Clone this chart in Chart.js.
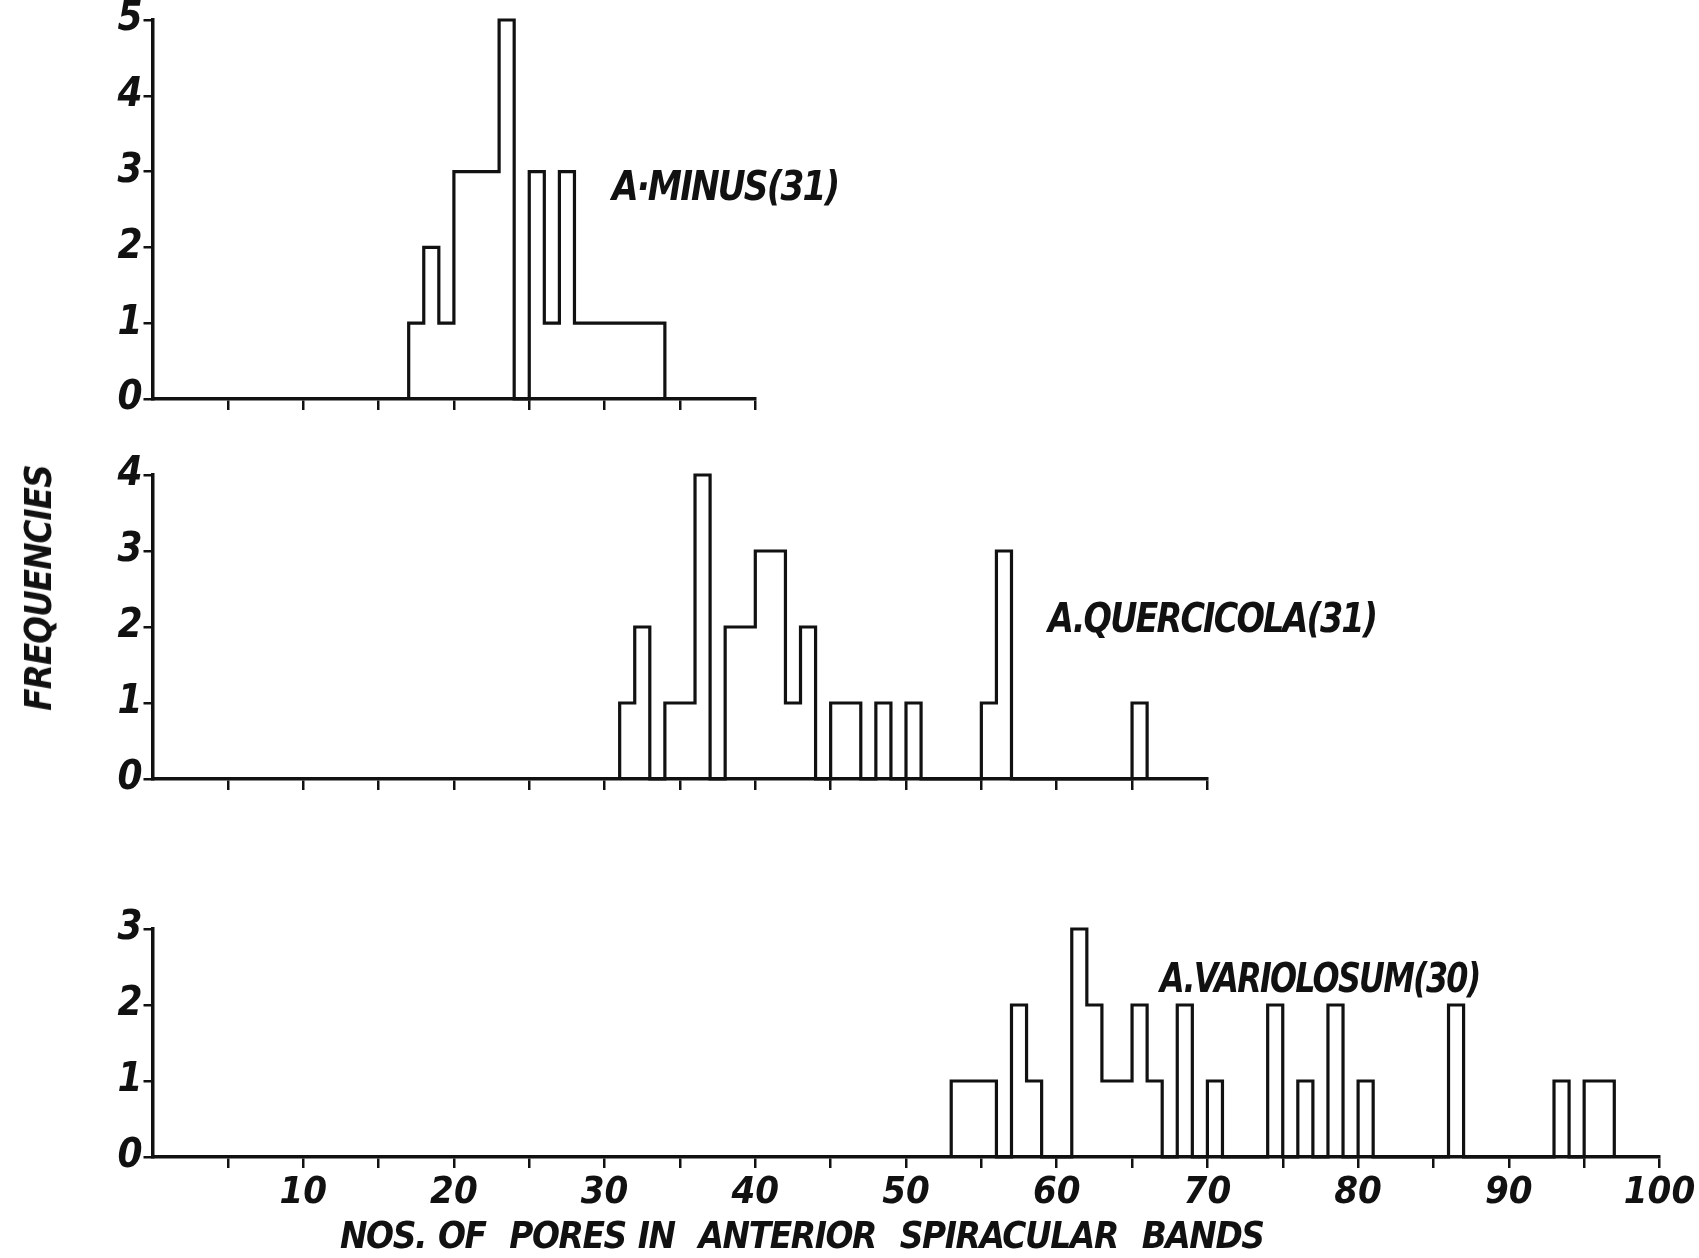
<!DOCTYPE html>
<html>
<head>
<meta charset="utf-8">
<script src="https://cdn.jsdelivr.net/npm/chart.js@4.4.1/dist/chart.umd.min.js"></script>
<style>
  html, body { margin: 0; padding: 0; background: #fff; }
  #page { position: relative; width: 1699px; height: 1258px; overflow: hidden; background: #fff; }
  .panel { position: absolute; left: 0; }
  .txt {
    position: absolute;
    font-family: 'DejaVu Sans Condensed', 'DejaVu Sans', sans-serif;
    font-style: italic;
    font-weight: bold;
    color: #111;
    white-space: pre;
    line-height: 1;
    transform-origin: 0 50%;
  }
</style>
</head>
<body>
<div id="page">
  <div class="panel" id="wrapMinus"><canvas id="chartMinus"></canvas></div>
  <div class="panel" id="wrapQuerc"><canvas id="chartQuerc"></canvas></div>
  <div class="panel" id="wrapVario"><canvas id="chartVario"></canvas></div>

  <div class="txt" id="lblMinus" style="left:612px; top:166px; font-size:40px; letter-spacing:-2px; transform:scaleX(0.955);">A·MINUS(31)</div>
  <div class="txt" id="lblQuerc" style="left:1048px; top:598px; font-size:40px; letter-spacing:-2px; transform:scaleX(0.93);">A.QUERCICOLA(31)</div>
  <div class="txt" id="lblVario" style="left:1160px; top:958px; font-size:40px; letter-spacing:-2px; transform:scaleX(0.885);">A.VARIOLOSUM(30)</div>
  <div class="txt" id="xTitle" style="left:340px; top:1216px; font-size:38px; letter-spacing:-1.5px; word-spacing:2px; transform:scaleX(0.963);">NOS. OF  PORES IN  ANTERIOR  SPIRACULAR  BANDS</div>
  <div class="txt" id="yTitle" style="left:38px; top:588px; font-size:38px; letter-spacing:-1px; transform-origin:50% 50%; transform:translate(-50%,-50%) rotate(-90deg) scaleX(0.957);">FREQUENCIES</div>
</div>

<script>
// Frequency of each pore count, starting at the first non-empty bin
const minusStart = 17;
const minusCounts = [1, 2, 1, 3, 3, 3, 5, 0, 3, 1, 3, 1, 1, 1, 1, 1, 1];

const quercStart = 31;
const quercCounts = [1, 2, 0, 1, 1, 4, 0, 2, 2, 3, 3, 1, 2, 0, 1, 1, 0, 1, 0, 1,
                     0, 0, 0, 0, 1, 3, 0, 0, 0, 0, 0, 0, 0, 0, 1];

const varioStart = 53;
const varioCounts = [1, 1, 1, 0, 2, 1, 0, 0, 3, 2, 1, 1, 2, 1, 0, 2, 0, 1, 0, 0,
                     0, 2, 0, 1, 0, 2, 0, 1, 0, 0, 0, 0, 0, 2, 0, 0, 0, 0, 0, 0,
                     1, 0, 1, 1];

// axis ranges for each panel
const xMaxes = [40, 70, 100];
const yMaxes = [5, 4, 3];
const xTickStep = 5;

// layout (page pixels)
const X0 = 152.5;          // where x = 0 sits
const PX_PER_UNIT = 15.07;
const PAD_TOP = 24;
const X_AXIS_H = 62;
const PAD_RIGHT = 40;
const panelTops = [19.5, 474.5, 929];     // y of the top value
const panelZeros = [398, 778.5, 1157];    // y of zero

const FONT = "'DejaVu Sans Condensed', 'DejaVu Sans', sans-serif";
const INK = '#111';

// turn bin counts into a stepped outline
function outlinePoints(start, counts) {
    const pts = [{ x: start, y: 0 }];
    counts.forEach((c, i) => pts.push({ x: start + i, y: c }));
    pts.push({ x: start + counts.length, y: 0 });
    return pts;
}

function makePanel(idx, canvasId, wrapId, start, counts, showXLabels) {
    const xMax = xMaxes[idx];
    const yMax = yMaxes[idx];
    const plotH = panelZeros[idx] - panelTops[idx];
    const width = Math.ceil(X0 + xMax * PX_PER_UNIT + PAD_RIGHT);
    const height = Math.ceil(PAD_TOP + plotH + X_AXIS_H);
    const padRight = width - (X0 + xMax * PX_PER_UNIT);

    const wrap = document.getElementById(wrapId);
    wrap.style.top = (panelTops[idx] - PAD_TOP) + 'px';
    wrap.style.width = width + 'px';
    wrap.style.height = height + 'px';
    const canvas = document.getElementById(canvasId);
    canvas.width = width;
    canvas.height = height;
    canvas.style.width = width + 'px';
    canvas.style.height = height + 'px';

    return new Chart(canvas.getContext('2d'), {
        type: 'line',
        data: {
            datasets: [{
                data: outlinePoints(start, counts),
                stepped: 'before',   // horizontal first, then vertical
                borderColor: INK,
                borderWidth: 3.2,
                pointRadius: 0,
                fill: false,
                clip: false
            }]
        },
        options: {
            responsive: false,
            animation: false,
            devicePixelRatio: 1,
            layout: { padding: { left: 0, top: PAD_TOP, right: padRight, bottom: 0 } },
            plugins: { legend: { display: false }, tooltip: { enabled: false } },
            scales: {
                x: {
                    type: 'linear',
                    min: 0,
                    max: xMax,
                    ticks: {
                        stepSize: xTickStep,
                        autoSkip: false,
                        maxRotation: 0,
                        display: showXLabels,
                        color: INK,
                        padding: 2,
                        font: { family: FONT, size: 38, style: 'italic', weight: 'bold' },
                        callback: v => (v > 0 && v % 10 === 0) ? String(v) : ''
                    },
                    grid: {
                        drawOnChartArea: false,
                        drawTicks: true,
                        tickLength: 11,
                        lineWidth: 2.5,
                        color: ctx => (ctx.tick && ctx.tick.value === 0) ? 'rgba(0,0,0,0)' : INK
                    },
                    border: { display: true, color: INK, width: 3.5 },
                    afterFit: s => { s.height = X_AXIS_H; s.paddingLeft = 0; s.paddingRight = 0; }
                },
                y: {
                    min: 0,
                    max: yMax,
                    ticks: {
                        stepSize: 1,
                        color: INK,
                        padding: 1,
                        font: { family: FONT, size: 40, style: 'italic', weight: 'bold' }
                    },
                    grid: {
                        drawOnChartArea: false,
                        drawTicks: true,
                        tickLength: 9,
                        lineWidth: 2.5,
                        color: INK
                    },
                    border: { display: true, color: INK, width: 3.5 },
                    afterFit: s => { s.width = X0; s.paddingTop = 0; s.paddingBottom = 0; }
                }
            }
        }
    });
}

makePanel(0, 'chartMinus', 'wrapMinus', minusStart, minusCounts, false);
makePanel(1, 'chartQuerc', 'wrapQuerc', quercStart, quercCounts, false);
makePanel(2, 'chartVario', 'wrapVario', varioStart, varioCounts, true);
</script>
</body>
</html>
